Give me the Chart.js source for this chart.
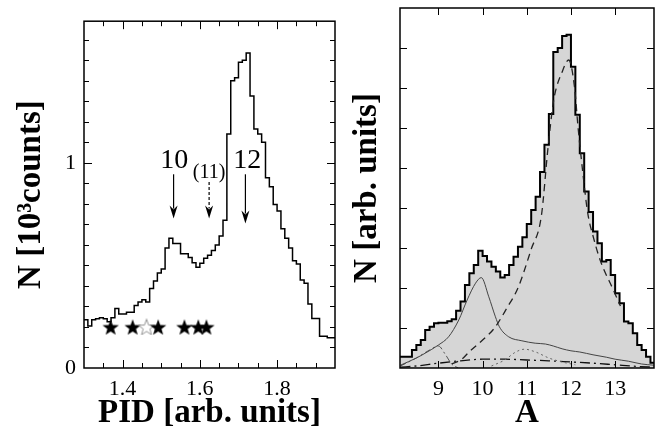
<!DOCTYPE html>
<html>
<head>
<meta charset="utf-8">
<script src="https://cdn.jsdelivr.net/npm/chart.js@4.4.0/dist/chart.umd.min.js"></script>
<style>
  html, body { margin: 0; padding: 0; background: #fff; }
  #wrap { position: relative; width: 662px; height: 432px; }
  .box { position: absolute; top: 0; height: 432px; }
</style>
</head>
<body>
<div id="wrap">
  <div class="box" style="left:0;width:345px"><canvas id="pidChart"></canvas></div>
  <div class="box" style="left:345px;width:317px"><canvas id="massChart"></canvas></div>
</div>
<script>
// ---- left panel: PID spectrum, bins of 0.01, N in 10^3 counts
const pidStart = 1.30;
const pidWidth = 0.01;
const pidCounts = [
  0.235, 0.205, 0.235, 0.24, 0.245, 0.24, 0.225, 0.245, 0.29, 0.263,
  0.263, 0.272, 0.272, 0.304, 0.322, 0.333, 0.322, 0.388, 0.424, 0.463,
  0.482, 0.585, 0.632, 0.607, 0.607, 0.557, 0.557, 0.538, 0.513, 0.491,
  0.51, 0.535, 0.55, 0.573, 0.60, 0.643, 0.72, 1.14, 1.40, 1.415,
  1.49, 1.50, 1.535, 1.325, 1.165, 1.14, 1.10, 0.927, 0.883, 0.797,
  0.765, 0.679, 0.632, 0.585, 0.523, 0.507, 0.429, 0.413, 0.312, 0.241,
  0.241, 0.155, 0.155, 0.147, 0.147
];
const pidTicks = [1.35, 1.4, 1.45, 1.5, 1.55, 1.6, 1.65, 1.7, 1.75, 1.8, 1.85, 1.9];
const pidLabels = [1.4, 1.6, 1.8];
const countTicks = [0.1, 0.2, 0.3, 0.4, 0.5, 0.6, 0.7, 0.8, 0.9, 1, 1.1, 1.2, 1.3, 1.4, 1.5, 1.6];
const countLabels = [0, 1];

// stars
const starPid = [1.369, 1.426, 1.462, 1.492, 1.560, 1.596, 1.617];
const starN = [0.2, 0.2, 0.2, 0.2, 0.2, 0.2, 0.2];
const starFilled = [true, true, false, true, true, true, true];

// arrows with mass labels
const arrowText = ["10", "(11)", "12"];
const arrowX = [1.532, 1.624, 1.718];
const arrowTop = [0.944, 0.906, 0.944];
const arrowTip = [0.728, 0.728, 0.704];
const arrowTextX = [1.534, 1.624, 1.723];
const arrowTextY = [1.009, 0.953, 1.009];
const arrowDotted = [false, true, false];

// ---- right panel: mass spectrum, bins of 0.1 in A
const massStart = 8.1;
const massWidth = 0.1;
const massCounts = [
  0.28, 0.28, 0.28, 0.45, 0.575, 0.70, 0.95, 1.03, 1.12, 1.13,
  1.13, 1.17, 1.22, 1.43, 1.66, 2.075, 2.37, 2.575, 2.93, 2.8,
  2.66, 2.53, 2.41, 2.26, 2.325, 2.575, 2.78, 3.03, 3.27, 3.6,
  3.95, 4.28, 4.9, 5.58, 6.35, 7.9, 8.0, 8.3, 8.33, 7.53,
  6.33, 5.37, 4.41, 3.9, 3.41, 3.12, 2.66, 2.70, 2.325, 1.87,
  1.62, 1.16, 1.12, 0.87, 0.575, 0.45, 0.283, 0.133
];
const massTicks = [9, 10, 11, 12, 13];
const arbTicks = [1, 2, 3, 4, 5, 6, 7, 8];

// fitted components
const fit10A = [8.14, 8.5, 8.7, 9.0, 9.23, 9.46, 9.65, 9.84, 9.97, 10.14, 10.29, 10.38, 10.59, 10.89, 11.19, 11.42, 11.6, 11.8, 12.0, 12.2, 12.5, 12.8, 13.0, 13.3, 13.6, 13.88];
const fit10N = [0.07, 0.25, 0.37, 0.575, 0.78, 1.2, 1.7, 2.12, 2.26, 1.78, 1.28, 1.03, 0.78, 0.68, 0.62, 0.6, 0.55, 0.48, 0.43, 0.4, 0.33, 0.27, 0.22, 0.17, 0.1, 0.07];
const fit12A = [9.3, 9.53, 9.71, 10.0, 10.27, 10.55, 10.8, 11.1, 11.33, 11.48, 11.61, 11.8, 11.95, 12.08, 12.16, 12.27, 12.38, 12.5, 12.66, 12.96, 13.12];
const fit12N = [0.1, 0.22, 0.42, 0.7, 1.0, 1.5, 2.0, 2.97, 3.8, 5.5, 6.7, 7.4, 7.7, 7.03, 6.03, 4.87, 3.87, 3.3, 2.7, 1.95, 1.55];
const fit11A = [10.2, 10.5, 10.75, 10.95, 11.2, 11.5, 11.8, 12.1];
const fit11N = [0.05, 0.2, 0.4, 0.47, 0.4, 0.25, 0.15, 0.08];
const fit9A = [8.14, 8.5, 8.8, 9.0, 9.15, 9.3, 9.45];
const fit9N = [0.05, 0.25, 0.45, 0.55, 0.35, 0.1, 0.0];
const bgA = [8.14, 8.5, 9.0, 9.5, 10.0, 10.5, 11.0, 11.5, 12.0, 12.5, 13.0, 13.5, 13.88];
const bgN = [0.02, 0.05, 0.12, 0.18, 0.22, 0.22, 0.2, 0.18, 0.15, 0.12, 0.08, 0.04, 0.02];

const serif = "'Liberation Serif', 'Times New Roman', serif";
Chart.defaults.font.family = serif;
Chart.defaults.color = '#000';

function steps(start, width, vals) {
  const pts = vals.map((v, i) => ({x: start + i * width, y: v}));
  pts.push({x: start + vals.length * width, y: vals[vals.length - 1]});
  return pts;
}
function pairs(xs, ys) {
  return xs.map((x, i) => ({x: x, y: ys[i]}));
}
function near(list, v) {
  return list.some(t => Math.abs(t - v) < 1e-6);
}

function makeStar(filled) {
  const c = document.createElement('canvas');
  c.width = 18; c.height = 17;
  const g = c.getContext('2d');
  g.beginPath();
  for (let k = 0; k < 10; k++) {
    const r = k % 2 === 0 ? 8.6 : 3.5;
    const ang = -Math.PI / 2 + k * Math.PI / 5;
    const px = 9 + r * Math.cos(ang), py = 9.4 + r * Math.sin(ang);
    if (k === 0) g.moveTo(px, py); else g.lineTo(px, py);
  }
  g.closePath();
  if (filled) {
    g.fillStyle = '#000';
    g.fill();
  } else {
    g.fillStyle = '#fff';
    g.fill();
    g.strokeStyle = '#777';
    g.lineWidth = 0.8;
    g.stroke();
  }
  return c;
}

// frame with inward ticks on all four sides
const frameTicks = {
  id: 'frameTicks',
  afterDatasetsDraw(chart, args, o) {
    const {ctx, chartArea: a, scales} = chart;
    ctx.save();
    ctx.strokeStyle = '#000';
    ctx.lineWidth = 1;
    ctx.beginPath();
    o.xTicks.forEach(v => {
      const px = Math.round(scales.x.getPixelForValue(v)) + 0.5;
      const len = near(o.xMajor, v) ? o.majorLen : o.minorLen;
      ctx.moveTo(px, a.bottom); ctx.lineTo(px, a.bottom - len);
      ctx.moveTo(px, a.top); ctx.lineTo(px, a.top + len);
    });
    o.yTicks.forEach(v => {
      const py = Math.round(scales.y.getPixelForValue(v)) + 0.5;
      const len = near(o.yMajor, v) ? o.majorLen : o.minorLen;
      ctx.moveTo(a.left, py); ctx.lineTo(a.left + len, py);
      ctx.moveTo(a.right, py); ctx.lineTo(a.right - len, py);
    });
    ctx.stroke();
    ctx.lineWidth = 1.5;
    ctx.strokeRect(a.left, a.top, a.right - a.left, a.bottom - a.top);
    ctx.restore();
  }
};

// mass labels and arrows on the PID panel
const arrowMarks = {
  id: 'arrowMarks',
  afterDatasetsDraw(chart) {
    const {ctx, scales: {x, y}} = chart;
    ctx.save();
    arrowText.forEach((t, i) => {
      const px = x.getPixelForValue(arrowX[i]);
      const y0 = y.getPixelForValue(arrowTop[i]);
      const y1 = y.getPixelForValue(arrowTip[i]);
      ctx.strokeStyle = '#000';
      ctx.fillStyle = '#000';
      ctx.lineWidth = 1.2;
      ctx.setLineDash(arrowDotted[i] ? [3, 2] : []);
      ctx.beginPath();
      ctx.moveTo(px, y0); ctx.lineTo(px, y1 - 10);
      ctx.stroke();
      ctx.setLineDash([]);
      ctx.beginPath();
      ctx.moveTo(px - 4, y1 - 13);
      ctx.lineTo(px, y1 - 9);
      ctx.lineTo(px + 4, y1 - 13);
      ctx.lineTo(px, y1);
      ctx.closePath();
      ctx.fill();
      ctx.font = (arrowDotted[i] ? '20px ' : '28px ') + serif;
      ctx.textAlign = 'center';
      ctx.textBaseline = 'middle';
      ctx.fillText(t, x.getPixelForValue(arrowTextX[i]), y.getPixelForValue(arrowTextY[i]));
    });
    ctx.restore();
  }
};

const titleFont = {family: serif, size: 33, weight: 'bold', lineHeight: 1.15};
const tickFont = {family: serif, size: 22};

new Chart(document.getElementById('pidChart'), {
  type: 'line',
  data: {
    datasets: [
      {
        data: pairs(starPid, starN),
        showLine: false,
        pointStyle: starFilled.map(f => makeStar(f)),
        pointRadius: 9
      },
      {
        data: steps(pidStart, pidWidth, pidCounts),
        stepped: 'before',
        borderColor: '#000',
        borderWidth: 1.5,
        pointRadius: 0,
        fill: false
      }
    ]
  },
  options: {
    responsive: true,
    maintainAspectRatio: false,
    animation: false,
    layout: {padding: {top: 8, right: 6, left: 0, bottom: 0}},
    plugins: {
      legend: {display: false},
      tooltip: {enabled: false},
      frameTicks: {xTicks: pidTicks, xMajor: pidLabels, yTicks: countTicks, yMajor: [1], majorLen: 8, minorLen: 5}
    },
    scales: {
      x: {
        type: 'linear', min: 1.3, max: 1.95,
        grid: {display: false, drawTicks: false},
        border: {display: false},
        ticks: {
          stepSize: 0.05, autoSkip: false, maxRotation: 0, includeBounds: false, padding: 8,
          font: tickFont, color: '#000',
          callback: v => near(pidLabels, v) ? v.toFixed(1) : ''
        },
        title: {display: true, text: 'PID [arb. units]', font: titleFont, color: '#000', padding: {top: 0, bottom: 0}},
        afterFit: s => { s.height = 64; }
      },
      y: {
        min: 0, max: 1.69,
        grid: {display: false, drawTicks: false},
        border: {display: false},
        ticks: {
          stepSize: 0.1, autoSkip: false, includeBounds: false, padding: 8,
          font: tickFont, color: '#000',
          callback: v => near(countLabels, v) ? String(Math.round(v)) : ''
        },
        title: {display: true, text: 'N [10³counts]', font: titleFont, color: '#000', padding: {top: 12, bottom: 0}},
        afterFit: s => { s.width = 84; }
      }
    }
  },
  plugins: [frameTicks, arrowMarks]
});

new Chart(document.getElementById('massChart'), {
  type: 'line',
  data: {
    datasets: [
      {data: pairs(fit12A, fit12N), borderColor: '#222', borderWidth: 1.3, borderDash: [7, 5]},
      {data: pairs(fit10A, fit10N), borderColor: '#444', borderWidth: 1},
      {data: pairs(fit11A, fit11N), borderColor: '#666', borderWidth: 1, borderDash: [2, 3]},
      {data: pairs(fit9A, fit9N), borderColor: '#555', borderWidth: 1, borderDash: [6, 3, 2, 3]},
      {data: pairs(bgA, bgN), borderColor: '#111', borderWidth: 1.3, borderDash: [10, 4, 2, 4]},
      {
        data: steps(massStart, massWidth, massCounts),
        stepped: 'before',
        borderColor: '#000',
        borderWidth: 2,
        backgroundColor: '#d6d6d6',
        fill: 'origin',
        tension: 0
      }
    ]
  },
  options: {
    responsive: true,
    maintainAspectRatio: false,
    animation: false,
    layout: {padding: {top: 8, right: 8, left: 0, bottom: 0}},
    elements: {
      point: {radius: 0},
      line: {tension: 0.4, cubicInterpolationMode: 'monotone', fill: false}
    },
    plugins: {
      legend: {display: false},
      tooltip: {enabled: false},
      frameTicks: {xTicks: massTicks, xMajor: massTicks, yTicks: arbTicks, yMajor: arbTicks, majorLen: 7, minorLen: 7}
    },
    scales: {
      x: {
        type: 'linear', min: 8.13, max: 13.88,
        grid: {display: false, drawTicks: false},
        border: {display: false},
        ticks: {
          stepSize: 1, autoSkip: false, maxRotation: 0, includeBounds: false, padding: 8,
          font: tickFont, color: '#000',
          callback: v => near(massTicks, v) ? String(v) : ''
        },
        title: {display: true, text: 'A', font: titleFont, color: '#000', padding: {top: 0, bottom: 0}},
        afterFit: s => { s.height = 64; }
      },
      y: {
        min: 0, max: 9,
        grid: {display: false, drawTicks: false},
        border: {display: false},
        ticks: {display: false, stepSize: 1},
        title: {display: true, text: 'N [arb. units]', font: titleFont, color: '#000', padding: {top: 3, bottom: 0}},
        afterFit: s => { s.width = 55; }
      }
    }
  },
  plugins: [frameTicks]
});
</script>
</body>
</html>
